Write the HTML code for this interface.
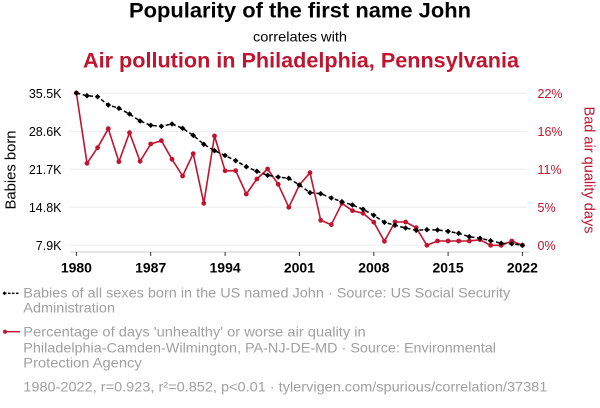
<!DOCTYPE html>
<html><head><meta charset="utf-8"><style>
html,body{margin:0;padding:0;background:#fff;}
svg{display:block;font-family:"Liberation Sans",Arial,sans-serif;}
</style></head><body>
<svg width="600" height="408" viewBox="0 0 600 408" xmlns="http://www.w3.org/2000/svg">
<defs>
<marker id="dia" markerUnits="userSpaceOnUse" markerWidth="8" markerHeight="8" refX="4" refY="4" viewBox="0 0 8 8"><path d="M4,1.2 L6.8,4 L4,6.8 L1.2,4Z" fill="#000"/></marker>
<marker id="dot" markerUnits="userSpaceOnUse" markerWidth="8" markerHeight="8" refX="4" refY="4" viewBox="0 0 8 8"><circle cx="4" cy="4" r="2.4" fill="#c0142f"/></marker>
</defs>
<rect width="600" height="408" fill="#fff"/>
<!-- titles -->
<text x="300" y="17.5" text-anchor="middle" font-size="21" font-weight="bold" fill="#000" textLength="342" lengthAdjust="spacingAndGlyphs">Popularity of the first name John</text>
<text x="300" y="41.7" text-anchor="middle" font-size="14" fill="#000" textLength="94" lengthAdjust="spacingAndGlyphs">correlates with</text>
<text x="301" y="67.7" text-anchor="middle" font-size="21" font-weight="bold" fill="#c0142f" textLength="436" lengthAdjust="spacingAndGlyphs">Air pollution in Philadelphia, Pennsylvania</text>
<!-- grid -->
<g stroke="#eeeeee" stroke-width="1">
<line x1="70" x2="527" y1="93.3" y2="93.3"/>
<line x1="70" x2="527" y1="131.5" y2="131.5"/>
<line x1="70" x2="527" y1="169.3" y2="169.3"/>
<line x1="70" x2="527" y1="207.3" y2="207.3"/>
<line x1="70" x2="527" y1="245.3" y2="245.3"/>
</g>
<!-- x axis -->
<line x1="70.5" x2="529" y1="252" y2="252" stroke="#c8c8c8" stroke-width="1"/>
<g stroke="#333" stroke-width="1">
<line x1="76.4" x2="76.4" y1="252" y2="256"/>
<line x1="150.7" x2="150.7" y1="252" y2="256"/>
<line x1="225.1" x2="225.1" y1="252" y2="256"/>
<line x1="299.4" x2="299.4" y1="252" y2="256"/>
<line x1="373.8" x2="373.8" y1="252" y2="256"/>
<line x1="448.1" x2="448.1" y1="252" y2="256"/>
<line x1="522.4" x2="522.4" y1="252" y2="256"/>
</g>
<g font-size="14" font-weight="bold" fill="#000" text-anchor="middle">
<text x="76.4" y="272.7">1980</text>
<text x="150.7" y="272.7">1987</text>
<text x="225.1" y="272.7">1994</text>
<text x="299.4" y="272.7">2001</text>
<text x="373.8" y="272.7">2008</text>
<text x="448.1" y="272.7">2015</text>
<text x="522.4" y="272.7">2022</text>
</g>
<!-- left axis labels -->
<g font-size="12.5" fill="#000" text-anchor="end">
<text x="61.5" y="97.8">35.5K</text>
<text x="61.5" y="136">28.6K</text>
<text x="61.5" y="173.8">21.7K</text>
<text x="61.5" y="211.8">14.8K</text>
<text x="61.5" y="249.8">7.9K</text>
</g>
<text transform="translate(15.5,170) rotate(-90)" text-anchor="middle" font-size="15" fill="#000" textLength="79" lengthAdjust="spacingAndGlyphs">Babies born</text>
<!-- right axis labels -->
<g font-size="12.5" fill="#c0142f" text-anchor="start">
<text x="537.5" y="97.8">22%</text>
<text x="537.5" y="136">16%</text>
<text x="537.5" y="173.8">11%</text>
<text x="537.5" y="211.8">5%</text>
<text x="537.5" y="249.8">0%</text>
</g>
<text transform="translate(584.5,170) rotate(90)" text-anchor="middle" font-size="15" fill="#c0142f" textLength="127" lengthAdjust="spacingAndGlyphs">Bad air quality days</text>
<!-- red series -->
<polyline fill="none" stroke="#c0142f" stroke-width="1.6" stroke-linejoin="round" marker-start="url(#dot)" marker-mid="url(#dot)" marker-end="url(#dot)" points="76.4,93 87.0,163.3 97.6,147.7 108.3,128.7 118.9,161.7 129.5,132.7 140.1,161.3 150.7,144 161.4,140.7 172.0,159.3 182.6,176 193.2,153.7 203.8,203.3 214.5,136 225.1,170.8 235.7,170.7 246.3,194 256.9,179 267.6,169 278.2,184.3 288.8,207.3 299.4,185 310.0,172.7 320.7,220.3 331.3,224.7 341.9,203.3 352.5,210.7 363.1,213.3 373.8,222.2 384.4,241.3 395.0,222 405.6,222 416.2,227.7 426.9,245.3 437.5,241 448.1,241 458.7,241 469.3,241 480.0,239.7 490.6,245.3 501.2,245.3 511.8,241 522.4,245.3"/>
<!-- black series -->
<polyline fill="none" stroke="#000" stroke-width="1.5" stroke-dasharray="4,2.5" marker-start="url(#dia)" marker-mid="url(#dia)" marker-end="url(#dia)" points="76.4,93 87.0,95.7 97.6,96.7 108.3,105 118.9,108.3 129.5,114 140.1,121 150.7,125.3 161.4,126.3 172.0,124 182.6,128.3 193.2,135.3 203.8,144.3 214.5,150.7 225.1,155.5 235.7,160.7 246.3,166.7 256.9,171.3 267.6,175.3 278.2,177 288.8,178.3 299.4,185 310.0,192.7 320.7,193.7 331.3,198 341.9,201.7 352.5,205 363.1,209.3 373.8,215.3 384.4,222.3 395.0,225.3 405.6,228 416.2,230.3 426.9,229.7 437.5,230 448.1,231.3 458.7,233.3 469.3,236.7 480.0,238.3 490.6,240.7 501.2,243.3 511.8,243.7 522.4,245.3"/>
<!-- legend -->
<line x1="4" x2="20" y1="293.3" y2="293.3" stroke="#000" stroke-width="1.3" stroke-dasharray="2.5,1.5"/>
<path d="M4.5,291.3 L6.5,293.3 L4.5,295.3 L2.5,293.3Z" fill="#000"/>
<line x1="4" x2="20" y1="331.7" y2="331.7" stroke="#c0142f" stroke-width="1.5"/>
<circle cx="5" cy="331.7" r="2" fill="#c0142f"/>
<g font-size="14" fill="#a0a0a0">
<text x="23.3" y="297.3" textLength="487" lengthAdjust="spacingAndGlyphs">Babies of all sexes born in the US named John · Source: US Social Security</text>
<text x="23.3" y="312.5" textLength="91.7" lengthAdjust="spacingAndGlyphs">Administration</text>
<text x="23.3" y="336.7" textLength="342.4" lengthAdjust="spacingAndGlyphs">Percentage of days 'unhealthy' or worse air quality in</text>
<text x="23.3" y="352.3" textLength="472.7" lengthAdjust="spacingAndGlyphs">Philadelphia-Camden-Wilmington, PA-NJ-DE-MD · Source: Environmental</text>
<text x="23.3" y="367.7" textLength="118.4" lengthAdjust="spacingAndGlyphs">Protection Agency</text>
<text x="23.3" y="391.7" textLength="524" lengthAdjust="spacingAndGlyphs">1980-2022, r=0.923, r²=0.852, p&lt;0.01 · tylervigen.com/spurious/correlation/37381</text>
</g>
</svg>
</body></html>
